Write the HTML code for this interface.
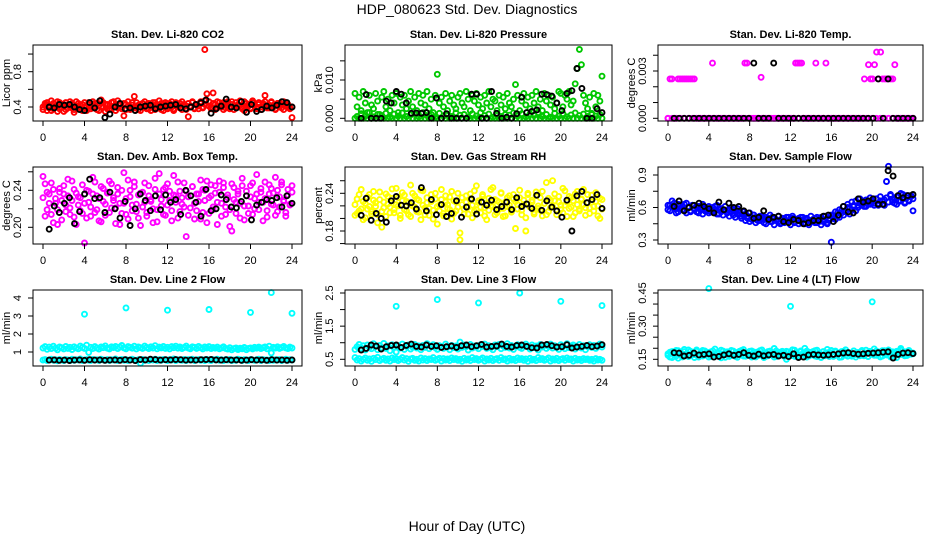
<!DOCTYPE html>
<html><head><meta charset="utf-8">
<style>
html,body{margin:0;padding:0;background:#fff;}
svg{display:block;font-family:"Liberation Sans",Arial,sans-serif;}
</style></head>
<body>
<svg id="chart" width="936" height="540" viewBox="0 0 936 540" xmlns="http://www.w3.org/2000/svg">
<text x="467" y="14" text-anchor="middle" font-size="14">HDP_080623  Std. Dev. Diagnostics</text>
<text x="467" y="531" text-anchor="middle" font-size="14">Hour of Day (UTC)</text>
</svg>
<script>
// ---------- data ----------
const xTicks = [0,4,8,12,16,20,24];
const xTickLabels = ["0","4","8","12","16","20","24"];

const co2A = [0.40,0.44,0.36,0.42,0.47,0.38,0.41,0.35,0.45,0.40,0.43,0.37,0.42,0.46,0.39,0.34,0.41,0.44,0.38,0.43,0.40,0.36,0.45,0.41,0.39,0.44,0.37,0.42,0.48,0.40,0.35,0.43,0.41,0.38,0.46,0.42,0.39,0.44,0.40,0.30,0.43,0.41,0.37,0.45,0.52,0.39,0.42,0.36,0.44,0.40,0.43,0.38,0.41,0.45,0.37,0.42,0.40,0.44,0.36,0.43,0.41,0.39,0.46,0.38,0.42,0.40,0.44,0.37,0.43,0.41,0.29,0.41,0.45,0.39,0.42,0.38,0.44,0.40,0.47,0.55,0.41,0.38,0.56,0.43,0.39,0.45,0.40,0.37,0.44,0.42,0.38,0.46,0.41,0.39,0.43,0.47,0.40,0.36,0.44,0.41,0.38,0.45,0.42,0.40,0.43,0.37,0.44,0.53,0.41,0.39,0.46,0.42,0.38,0.44,0.40,0.43,0.37,0.45,0.41,0.39,0.28];
const co2B = [0.37,0.42,0.45,0.39,0.36,0.44,0.40,0.46,0.38,0.43,0.35,0.45,0.39,0.41,0.44,0.37,0.46,0.40,0.42,0.36,0.45,0.39,0.43,0.38,0.46,0.41,0.44,0.36,0.40,0.45,0.43,0.38,0.37,0.45,0.40,0.36,0.47,0.42,0.38,0.44,0.37,0.46,0.40,0.42,0.39,0.45,0.37,0.43,0.40,0.46,0.38,0.44,0.36,0.42,0.45,0.39,0.47,0.37,0.42,0.45,0.38,0.44,0.40,0.36,0.45,0.43,0.39,0.46,0.41,0.37,0.44,0.40,0.46,0.38,0.43,0.41,0.46,0.39,0.43,0.42,0.46,0.40,0.44,0.37,0.46,0.41,0.43,0.45,0.39,0.46,0.40,0.43,0.37,0.45,0.41,0.42,0.38,0.46,0.40,0.43,0.39,0.47,0.42,0.38,0.45,0.40,0.43,0.46,0.39,0.42,0.45,0.40,0.37,0.44,0.42,0.39,0.46,0.41,0.43,0.38,0.40];
const co2Out = [1.05];
const co2OutH = [15.6];
const co2K = [0.40,0.39,0.43,0.42,0.43,0.40,0.37,0.36,0.45,0.39,0.47,0.28,0.32,0.40,0.44,0.38,0.39,0.36,0.40,0.41,0.42,0.38,0.40,0.41,0.42,0.43,0.39,0.38,0.40,0.43,0.45,0.48,0.33,0.38,0.41,0.49,0.40,0.39,0.46,0.34,0.43,0.35,0.37,0.41,0.39,0.42,0.46,0.45,0.40];

const presA = [0.0065,0.0030,0.0055,0.0020,0.0070,0.0040,0.0015,0.0060,0.0035,0.0025,0.0065,0.0045,0.0010,0.0055,0.0070,0.0030,0.0050,0.0020,0.0060,0.0040,0.0065,0.0015,0.0055,0.0035,0.0060,0.0025,0.0045,0.0070,0.0030,0.0055,0.0020,0.0065,0.0040,0.0060,0.0035,0.0070,0.0025,0.0050,0.0015,0.0060,0.0115,0.0040,0.0055,0.0030,0.0065,0.0020,0.0045,0.0060,0.0035,0.0025,0.0055,0.0065,0.0040,0.0030,0.0070,0.0050,0.0020,0.0060,0.0045,0.0065,0.0035,0.0055,0.0025,0.0060,0.0040,0.0070,0.0030,0.0050,0.0045,0.0020,0.0060,0.0035,0.0055,0.0025,0.0065,0.0040,0.0030,0.0050,0.0088,0.0060,0.0020,0.0045,0.0065,0.0035,0.0055,0.0025,0.0060,0.0040,0.0070,0.0030,0.0050,0.0020,0.0065,0.0045,0.0060,0.0035,0.0055,0.0025,0.0040,0.0070,0.0065,0.0030,0.0060,0.0050,0.0070,0.0035,0.0045,0.0090,0.0130,0.0180,0.0140,0.0060,0.0040,0.0025,0.0055,0.0010,0.0065,0.0030,0.0060,0.0045,0.0110];
const presB = [0,0.0005,0,0.0012,0,0.0006,0,0.0015,0,0.0004,0,0.0010,0,0.0007,0,0.0013,0,0.0003,0,0.0011,0,0.0006,0,0.0014,0,0.0005,0,0.0009,0,0.0012,0,0.0004,0,0.0015,0,0.0007,0,0.0010,0,0.0003,0,0.0013,0,0.0006,0,0.0011,0,0.0005,0,0.0014,0,0.0008,0,0.0010,0,0.0004,0,0.0012,0,0.0006,0,0.0015,0,0.0007,0,0.0011,0,0.0003,0,0.0013,0,0.0005,0,0.0010,0,0.0008,0,0.0014,0,0.0006,0,0.0012,0,0.0004,0,0.0011,0,0.0007,0,0.0015,0,0.0005,0,0.0010,0,0.0003,0,0.0013,0,0.0006,0,0.0012,0,0.0004,0,0.0009,0,0.0014,0,0.0007,0,0.0011,0,0.0005,0,0.0013,0,0.0006,0,0.0010,0];
const presK = [0,0.0062,0,0,0,0.0045,0.0040,0.0070,0.0063,0.0040,0.0013,0.0014,0.0013,0.0015,0,0.0053,0,0.0012,0,0,0,0,0.0063,0.0063,0,0,0.0070,0.0013,0,0.0003,0,0.0012,0.0055,0.0015,0.0018,0.0022,0.0063,0.0062,0.0058,0.0040,0.0020,0.0065,0.0072,0.0130,0.0078,0,0,0.0025,0.0015];

const tempA = [0,0.0025,0.0025,0,0,0.0025,0.0025,0.0025,0.0025,0.0025,0.0025,0.0025,0.0025,0.0025,0,0,0,0,0,0,0,0,0.0035,0,0,0,0,0,0,0,0,0,0,0,0,0,0,0,0.0035,0.0035,0,0,0,0,0,0,0.0026,0,0,0,0,0,0,0,0,0,0,0,0,0,0,0,0,0.0035,0.0035,0.0035,0.0035,0,0,0,0,0,0,0.0035,0,0,0,0,0.0035,0,0,0,0,0,0,0,0,0,0,0,0,0,0,0,0,0,0,0.0025,0,0.0034,0.0025,0.0025,0.0034,0.0042,0.0025,0.0042,0.0025,0.0025,0.0025,0.0025,0.0025,0.0025,0.0034,0,0,0,0,0,0,0,0,0];
const tempB = [0,0,0,0,0,0,0,0,0,0,0,0,0,0,0,0,0,0,0,0,0,0,0,0,0,0,0,0,0,0,0,0,0,0,0,0,0,0,0,0,0,0,0,0,0,0,0,0,0,0,0,0,0,0,0,0,0,0,0,0,0];
const tempK = [0,0,0,0,0,0,0,0,0,0,0,0,0,0,0,0,0.0035,0,0,0,0.0035,0,0,0,0,0,0,0,0,0,0,0,0,0,0,0,0,0,0,0,0,0.0025,0,0.0025,0,0,0,0,0];

const ambA = [0.255,0.212,0.238,0.226,0.248,0.205,0.231,0.219,0.242,0.208,0.236,0.224,0.252,0.214,0.229,0.241,0.203,0.233,0.218,0.246,0.226,0.210,0.239,0.222,0.254,0.216,0.234,0.207,0.244,0.228,0.213,0.237,0.250,0.221,0.232,0.204,0.243,0.226,0.215,0.259,0.231,0.209,0.240,0.224,0.249,0.217,0.235,0.202,0.238,0.227,0.212,0.245,0.230,0.220,0.253,0.206,0.236,0.223,0.241,0.213,0.247,0.229,0.218,0.256,0.234,0.210,0.239,0.225,0.248,0.190,0.233,0.221,0.244,0.209,0.236,0.228,0.251,0.216,0.240,0.205,0.232,0.246,0.219,0.237,0.227,0.250,0.212,0.243,0.222,0.235,0.201,0.247,0.230,0.215,0.239,0.226,0.253,0.208,0.234,0.223,0.245,0.214,0.231,0.257,0.219,0.238,0.227,0.249,0.211,0.236,0.242,0.224,0.254,0.217,0.233,0.246,0.228,0.212,0.241,0.225,0.238];
const ambB = [0.232,0.247,0.219,0.236,0.214,0.241,0.226,0.203,0.238,0.229,0.245,0.217,0.234,0.221,0.250,0.211,0.237,0.224,0.232,0.215,0.183,0.240,0.227,0.212,0.236,0.249,0.219,0.231,0.206,0.242,0.225,0.238,0.216,0.247,0.229,0.221,0.236,0.203,0.240,0.226,0.214,0.251,0.233,0.218,0.244,0.225,0.210,0.237,0.222,0.248,0.216,0.234,0.228,0.205,0.241,0.219,0.258,0.230,0.214,0.243,0.224,0.239,0.207,0.235,0.227,0.249,0.217,0.232,0.222,0.239,0.213,0.178,0.244,0.226,0.218,0.236,0.209,0.241,0.229,0.250,0.215,0.234,0.222,0.245,0.203,0.238,0.226,0.248,0.214,0.232,0.219,0.196,0.243,0.227,0.236,0.210,0.245,0.223,0.239,0.215,0.233,0.248,0.220,0.236,0.227,0.242,0.207,0.231,0.218,0.246,0.225,0.237,0.213,0.240,0.222,0.249,0.229,0.216,0.235,0.224,0.245];
const ambK = [0.198,0.223,0.216,0.226,0.232,0.204,0.217,0.236,0.252,0.231,0.232,0.216,0.238,0.220,0.210,0.228,0.202,0.220,0.236,0.229,0.218,0.234,0.219,0.235,0.227,0.230,0.214,0.240,0.234,0.227,0.212,0.241,0.218,0.220,0.235,0.230,0.222,0.221,0.228,0.234,0.208,0.224,0.227,0.230,0.229,0.232,0.222,0.234,0.226];

const rhA = [0.205,0.231,0.212,0.246,0.198,0.224,0.215,0.238,0.207,0.229,0.219,0.193,0.242,0.211,0.226,0.203,0.235,0.218,0.247,0.209,0.222,0.233,0.200,0.241,0.214,0.227,0.206,0.253,0.220,0.236,0.211,0.229,0.198,0.244,0.217,0.225,0.205,0.238,0.213,0.231,0.191,0.221,0.246,0.208,0.226,0.216,0.234,0.199,0.228,0.212,0.240,0.177,0.222,0.207,0.236,0.218,0.230,0.201,0.244,0.214,0.225,0.209,0.238,0.217,0.198,0.232,0.220,0.249,0.206,0.228,0.215,0.241,0.203,0.226,0.219,0.236,0.210,0.231,0.184,0.222,0.245,0.213,0.229,0.201,0.238,0.218,0.226,0.207,0.242,0.216,0.233,0.204,0.224,0.257,0.211,0.229,0.219,0.239,0.206,0.226,0.214,0.248,0.221,0.203,0.235,0.218,0.228,0.209,0.243,0.215,0.231,0.222,0.205,0.238,0.217,0.226,0.212,0.241,0.220,0.200,0.230];
const rhB = [0.222,0.208,0.238,0.215,0.227,0.201,0.234,0.219,0.211,0.243,0.225,0.206,0.230,0.186,0.217,0.239,0.223,0.209,0.232,0.214,0.248,0.220,0.205,0.228,0.237,0.212,0.225,0.203,0.240,0.218,0.231,0.210,0.245,0.221,0.206,0.233,0.216,0.227,0.199,0.240,0.219,0.212,0.230,0.204,0.236,0.222,0.214,0.243,0.208,0.226,0.218,0.166,0.233,0.215,0.226,0.207,0.239,0.221,0.212,0.252,0.228,0.218,0.235,0.204,0.224,0.213,0.246,0.219,0.230,0.209,0.226,0.240,0.216,0.204,0.233,0.221,0.212,0.238,0.227,0.215,0.233,0.206,0.222,0.180,0.240,0.218,0.229,0.210,0.236,0.220,0.213,0.243,0.224,0.206,0.232,0.217,0.260,0.228,0.213,0.235,0.221,0.209,0.244,0.226,0.216,0.233,0.203,0.239,0.222,0.212,0.230,0.246,0.217,0.225,0.208,0.237,0.219,0.227,0.204,0.232,0.215];
const rhK = [0.205,0.232,0.197,0.208,0.200,0.194,0.228,0.235,0.221,0.220,0.225,0.215,0.249,0.212,0.230,0.206,0.222,0.203,0.208,0.228,0.202,0.218,0.231,0.207,0.226,0.221,0.229,0.214,0.219,0.226,0.214,0.233,0.219,0.223,0.216,0.237,0.213,0.228,0.218,0.212,0.202,0.229,0.180,0.236,0.243,0.225,0.230,0.238,0.216];

const flowA = [0.58,0.62,0.66,0.60,0.55,0.63,0.59,0.61,0.57,0.64,0.60,0.56,0.62,0.58,0.61,0.55,0.60,0.63,0.57,0.59,0.61,0.56,0.60,0.58,0.62,0.54,0.59,0.57,0.61,0.55,0.58,0.60,0.53,0.57,0.59,0.55,0.52,0.56,0.54,0.50,0.55,0.49,0.53,0.51,0.48,0.52,0.50,0.46,0.51,0.49,0.53,0.47,0.50,0.48,0.52,0.46,0.50,0.49,0.47,0.51,0.48,0.52,0.46,0.49,0.50,0.47,0.51,0.45,0.49,0.48,0.52,0.47,0.50,0.46,0.49,0.51,0.47,0.48,0.45,0.50,0.28,0.52,0.49,0.55,0.51,0.57,0.53,0.56,0.60,0.54,0.58,0.62,0.57,0.60,0.64,0.62,0.66,0.61,0.65,0.63,0.67,0.64,0.68,0.62,0.66,0.63,0.67,0.84,0.98,0.71,0.65,0.68,0.63,0.70,0.66,0.72,0.64,0.69,0.66,0.71,0.57];
const flowB = [0.62,0.57,0.61,0.64,0.59,0.56,0.62,0.58,0.63,0.55,0.60,0.57,0.62,0.59,0.56,0.61,0.58,0.54,0.60,0.57,0.55,0.59,0.56,0.61,0.54,0.58,0.56,0.53,0.57,0.55,0.52,0.56,0.58,0.51,0.54,0.57,0.50,0.53,0.48,0.52,0.47,0.51,0.53,0.46,0.50,0.48,0.52,0.49,0.45,0.50,0.47,0.51,0.44,0.49,0.47,0.45,0.50,0.46,0.51,0.48,0.44,0.50,0.47,0.49,0.45,0.51,0.48,0.46,0.50,0.44,0.47,0.49,0.46,0.51,0.47,0.44,0.49,0.52,0.46,0.48,0.53,0.50,0.56,0.52,0.58,0.55,0.61,0.57,0.63,0.59,0.65,0.61,0.66,0.62,0.68,0.64,0.61,0.67,0.63,0.69,0.65,0.62,0.68,0.64,0.70,0.66,0.62,0.69,0.65,0.72,0.67,0.64,0.70,0.66,0.73,0.68,0.65,0.71,0.67,0.70,0.68];
const flowK = [0.61,0.66,0.57,0.60,0.62,0.64,0.61,0.59,0.55,0.65,0.58,0.64,0.60,0.61,0.57,0.55,0.50,0.51,0.57,0.49,0.51,0.52,0.47,0.46,0.49,0.48,0.45,0.46,0.48,0.48,0.52,0.53,0.47,0.53,0.61,0.56,0.55,0.68,0.65,0.66,0.68,0.63,0.63,0.94,0.89,0.71,0.69,0.71,0.72];

const l2A = [1.22,1.30,1.15,1.27,1.19,1.32,1.21,1.12,1.28,1.24,1.17,1.31,1.20,1.26,1.14,1.29,1.23,1.18,1.33,1.25,1.20,1.38,0.98,1.26,1.19,1.30,1.22,1.16,1.28,1.24,1.34,1.21,1.17,1.29,1.25,1.31,1.19,1.27,1.36,1.23,1.18,1.30,1.26,1.21,1.32,1.17,1.28,1.24,1.20,1.33,1.25,1.19,1.29,1.22,1.35,1.18,1.27,1.23,1.31,1.20,1.26,1.17,1.30,1.24,1.32,1.21,1.28,1.19,1.25,1.33,1.22,1.18,1.29,1.26,1.20,1.31,1.24,1.17,1.28,1.22,1.30,1.19,1.25,1.21,1.27,1.18,1.23,1.29,1.20,1.16,1.24,1.12,1.19,1.22,1.14,1.21,1.18,1.25,1.13,1.20,1.23,1.17,1.26,1.21,1.27,1.19,1.24,1.28,1.18,1.32,0.95,1.26,1.22,1.29,1.20,1.25,1.31,1.23,1.19,1.27,1.22];
const l2B = [0.55,0.58,0.52,0.56,0.60,0.54,0.57,0.51,0.59,0.55,0.53,0.58,0.56,0.52,0.60,0.54,0.57,0.55,0.61,0.53,0.56,0.58,0.54,0.52,0.59,0.55,0.57,0.53,0.60,0.56,0.54,0.58,0.52,0.57,0.55,0.61,0.53,0.56,0.59,0.54,0.58,0.52,0.56,0.60,0.55,0.53,0.57,0.38,0.59,0.54,0.56,0.52,0.58,0.55,0.60,0.53,0.57,0.54,0.59,0.56,0.52,0.58,0.55,0.61,0.53,0.57,0.56,0.54,0.59,0.52,0.58,0.55,0.60,0.53,0.56,0.58,0.54,0.57,0.52,0.59,0.55,0.53,0.58,0.56,0.60,0.54,0.57,0.52,0.58,0.55,0.59,0.53,0.56,0.54,0.60,0.57,0.52,0.58,0.55,0.53,0.59,0.56,0.54,0.57,0.60,0.52,0.58,0.55,0.56,0.53,0.59,0.54,0.57,0.55,0.58,0.52,0.56,0.60,0.54,0.57,0.55];
const l2Out = [3.1,3.45,3.32,3.36,3.2,4.3,3.15];
const l2OutH = [4,8,12,16,20,22,24];
const l2K = [0.55,0.56,0.54,0.55,0.53,0.55,0.56,0.54,0.57,0.55,0.56,0.54,0.55,0.56,0.54,0.57,0.55,0.52,0.58,0.56,0.60,0.58,0.55,0.57,0.56,0.58,0.57,0.55,0.56,0.55,0.57,0.58,0.59,0.56,0.55,0.57,0.55,0.56,0.54,0.55,0.57,0.55,0.56,0.54,0.57,0.55,0.56,0.54,0.56];

const l3A = [0.80,0.88,0.95,0.84,0.91,0.78,0.93,0.86,0.82,0.97,0.89,0.79,0.92,0.85,0.98,0.83,0.90,0.76,0.94,0.87,0.72,0.91,0.84,0.96,0.80,0.89,0.93,0.81,0.87,0.95,0.84,0.90,0.79,0.92,0.86,0.97,0.82,0.89,0.94,0.85,0.80,0.91,0.88,0.83,0.96,0.87,0.79,0.92,0.85,0.90,0.81,1.02,0.86,0.93,0.88,0.78,0.95,0.84,0.90,0.87,0.82,0.94,0.89,0.96,0.83,0.91,0.85,0.79,0.93,0.88,0.95,0.82,0.90,0.86,0.97,0.84,0.92,0.80,0.89,0.94,0.86,0.83,0.91,0.96,0.88,0.81,0.93,0.85,0.90,0.78,0.95,0.87,0.92,0.83,0.89,0.96,0.84,0.91,0.86,0.80,0.94,0.88,0.82,0.97,0.85,0.90,0.93,0.81,0.87,0.95,0.84,0.91,0.79,0.88,0.94,0.86,0.92,0.83,0.89,0.96,0.87];
const l3B = [0.55,0.48,0.52,0.45,0.50,0.54,0.47,0.51,0.44,0.53,0.49,0.56,0.46,0.50,0.53,0.47,0.51,0.45,0.54,0.49,0.52,0.46,0.50,0.55,0.48,0.52,0.44,0.51,0.53,0.47,0.50,0.45,0.54,0.48,0.52,0.46,0.51,0.49,0.55,0.47,0.50,0.53,0.45,0.52,0.48,0.51,0.46,0.54,0.49,0.52,0.47,0.50,0.44,0.53,0.48,0.51,0.46,0.55,0.49,0.52,0.47,0.50,0.54,0.45,0.51,0.48,0.53,0.46,0.50,0.52,0.47,0.55,0.49,0.51,0.45,0.53,0.48,0.50,0.46,0.54,0.49,0.52,0.47,0.51,0.44,0.53,0.48,0.50,0.46,0.55,0.49,0.52,0.47,0.50,0.54,0.45,0.51,0.48,0.53,0.46,0.50,0.52,0.47,0.54,0.49,0.51,0.45,0.53,0.48,0.50,0.46,0.52,0.49,0.51,0.47,0.50,0.45,0.52,0.48,0.50,0.47];
const l3Out = [2.1,2.3,2.2,2.5,2.25,2.12];
const l3OutH = [4,8,12,16,20,24];
const l3K = [0.78,0.83,0.93,0.90,0.81,0.88,0.92,0.93,0.86,0.92,0.96,0.89,0.87,0.93,0.89,0.91,0.86,0.88,0.90,0.86,0.91,0.93,0.88,0.91,0.95,0.87,0.89,0.90,0.96,0.89,0.87,0.92,0.93,0.89,0.85,0.84,0.93,0.95,0.91,0.87,0.88,0.94,0.84,0.87,0.89,0.92,0.88,0.90,0.94];

const l4A = [0.175,0.160,0.185,0.170,0.190,0.155,0.180,0.168,0.195,0.172,0.162,0.186,0.176,0.158,0.192,0.170,0.182,0.165,0.188,0.174,0.160,0.184,0.171,0.196,0.166,0.179,0.157,0.187,0.173,0.181,0.163,0.190,0.169,0.177,0.159,0.186,0.172,0.194,0.164,0.180,0.168,0.188,0.175,0.161,0.183,0.170,0.192,0.158,0.178,0.166,0.187,0.173,0.199,0.162,0.181,0.169,0.186,0.176,0.150,0.184,0.171,0.193,0.163,0.179,0.167,0.188,0.174,0.200,0.160,0.182,0.170,0.185,0.165,0.191,0.173,0.158,0.184,0.176,0.195,0.162,0.180,0.168,0.187,0.171,0.159,0.185,0.174,0.193,0.164,0.178,0.169,0.188,0.160,0.181,0.172,0.190,0.166,0.179,0.163,0.186,0.174,0.197,0.168,0.183,0.161,0.189,0.175,0.170,0.192,0.164,0.180,0.177,0.158,0.186,0.199,0.171,0.184,0.167,0.190,0.173,0.178];
const l4B = [0.168,0.182,0.158,0.176,0.165,0.189,0.172,0.161,0.185,0.174,0.192,0.166,0.179,0.171,0.186,0.160,0.177,0.190,0.169,0.182,0.175,0.163,0.188,0.170,0.180,0.166,0.191,0.173,0.159,0.184,0.176,0.168,0.187,0.163,0.181,0.172,0.190,0.165,0.178,0.170,0.186,0.160,0.183,0.175,0.167,0.189,0.172,0.180,0.164,0.185,0.171,0.177,0.160,0.188,0.168,0.182,0.174,0.163,0.186,0.170,0.179,0.167,0.191,0.173,0.160,0.184,0.176,0.168,0.187,0.165,0.181,0.172,0.189,0.162,0.178,0.170,0.185,0.166,0.180,0.174,0.190,0.163,0.183,0.171,0.177,0.160,0.186,0.169,0.181,0.175,0.164,0.188,0.172,0.179,0.166,0.185,0.170,0.191,0.162,0.182,0.176,0.168,0.187,0.173,0.180,0.165,0.189,0.171,0.178,0.161,0.184,0.174,0.186,0.169,0.191,0.176,0.166,0.183,0.172,0.180,0.175];
const l4Out = [0.47,0.39,0.41];
const l4OutH = [4,12,20];
const l4K = [0.180,0.178,0.165,0.168,0.178,0.170,0.172,0.175,0.160,0.163,0.170,0.175,0.168,0.172,0.180,0.168,0.165,0.173,0.166,0.170,0.172,0.165,0.168,0.162,0.175,0.158,0.160,0.170,0.172,0.170,0.168,0.170,0.172,0.175,0.178,0.180,0.176,0.173,0.175,0.177,0.178,0.180,0.182,0.184,0.156,0.172,0.178,0.180,0.176];

// ---------- drawing ----------
const NS = "http://www.w3.org/2000/svg";
const svg = document.getElementById('chart');
function mk(tag, attrs, parent){ const e=document.createElementNS(NS,tag); for(const k in attrs) e.setAttribute(k,attrs[k]); (parent||svg).appendChild(e); return e; }

const panels = [
 {key:'co2',title:'Stan. Dev. Li-820 CO2',ylab:'Licor ppm',x:33,y:45,w:269,h:76,v0:0.4,p0:107,v1:0.8,p1:71.7,ticks:[0.4,0.6,0.8,1.0],tl:["0.4","","0.8",""],col:'#ff0000',series:[co2A,co2B],outV:co2Out,outH:co2OutH,black:co2K},
 {key:'pressure',title:'Stan. Dev. Li-820 Pressure',ylab:'kPa',x:345,y:45,w:267,h:76,v0:0,p0:118.3,v1:0.01,p1:80,ticks:[0,0.005,0.01,0.015],tl:["0.000","","0.010",""],col:'#00c800',series:[presB,presA],outV:[],outH:[],black:presK},
 {key:'temp',title:'Stan. Dev. Li-820 Temp.',ylab:'degrees C',x:658,y:45,w:265,h:76,v0:0,p0:118.3,v1:0.003,p1:71,ticks:[0,0.001,0.002,0.003,0.004],tl:["0.000","","","0.003",""],col:'#ff00ff',series:[tempB,tempA],outV:[],outH:[],black:tempK},
 {key:'ambtemp',title:'Stan. Dev. Amb. Box Temp.',ylab:'degrees C',x:33,y:167,w:269,h:77,v0:0.20,p0:227.3,v1:0.24,p1:190.3,ticks:[0.20,0.22,0.24,0.26],tl:["0.20","","0.24",""],col:'#ff00ff',series:[ambA,ambB],outV:[],outH:[],black:ambK},
 {key:'rh',title:'Stan. Dev. Gas Stream RH',ylab:'percent',x:345,y:167,w:267,h:77,v0:0.18,p0:231,v1:0.24,p1:193.3,ticks:[0.16,0.18,0.20,0.22,0.24,0.26],tl:["","0.18","","","0.24",""],col:'#ffff00',series:[rhA,rhB],outV:[],outH:[],black:rhK},
 {key:'sampleflow',title:'Stan. Dev. Sample Flow',ylab:'ml/min',x:658,y:167,w:265,h:77,v0:0.3,p0:240,v1:0.9,p1:175,ticks:[0.3,0.45,0.6,0.75,0.9],tl:["0.3","","0.6","","0.9"],col:'#0000ff',series:[flowA,flowB],outV:[],outH:[],black:flowK},
 {key:'line2',title:'Stan. Dev. Line 2 Flow',ylab:'ml/min',x:33,y:290,w:269,h:76,v0:1,p0:352,v1:4,p1:298,ticks:[1,2,3,4],tl:["1","2","3","4"],col:'#00ffff',series:[l2A,l2B],outV:l2Out,outH:l2OutH,black:l2K},
 {key:'line3',title:'Stan. Dev. Line 3 Flow',ylab:'ml/min',x:345,y:290,w:267,h:76,v0:0.5,p0:359.3,v1:2.5,p1:293,ticks:[0.5,1.0,1.5,2.0,2.5],tl:["0.5","","1.5","","2.5"],col:'#00ffff',series:[l3A,l3B],outV:l3Out,outH:l3OutH,black:l3K},
 {key:'line4',title:'Stan. Dev. Line 4 (LT) Flow',ylab:'ml/min',x:658,y:290,w:265,h:76,v0:0.15,p0:359.3,v1:0.45,p1:293,ticks:[0.15,0.20,0.25,0.30,0.35,0.40,0.45],tl:["0.15","","","0.30","","","0.45"],col:'#00ffff',series:[l4A,l4B],outV:l4Out,outH:l4OutH,black:l4K}
];

panels.forEach(p=>{
  const g = mk('g',{});
  
  
  const xs = h => p.x+10 + h*(p.w-20)/24;
  const ys = v => p.p0 + (v-p.v0)*(p.p1-p.p0)/(p.v1-p.v0);
  const ptsG = mk('g',{fill:'none','stroke-width':1.9},g);
  
  
  const drawPt=(h,v,c)=>{ const yy=ys(v); if(yy<p.y-2||yy>p.y+p.h+2) return;
    const c1=mk('circle',{cx:xs(h).toFixed(1),cy:yy.toFixed(1),r:2.5,stroke:c},ptsG);
    
     };
  p.series.forEach(s=>{ s.forEach((v,i)=>drawPt(i*24/(s.length-1),v,p.col)); });
  p.outV.forEach((v,i)=>drawPt(p.outH[i],v,p.col));
  p.black.forEach((v,i)=>drawPt(0.6+i*23.4/(p.black.length-1),v,'#000'));
  const box = mk('rect',{x:p.x,y:p.y,width:p.w,height:p.h,fill:'none',stroke:'#000','stroke-width':1},g);
  
  
  const t = mk('text',{x:p.x+p.w/2,y:p.y-7,'text-anchor':'middle','font-size':11,'font-weight':'bold'},g);
  t.textContent=p.title;
  
  
  const bx = p.y+p.h;
  mk('line',{x1:xs(0),x2:xs(24),y1:bx,y2:bx,stroke:'#000'},g);
  xTicks.forEach((h,i)=>{
    mk('line',{x1:xs(h),x2:xs(h),y1:bx,y2:bx+5,stroke:'#000'},g);
    const tl=mk('text',{x:xs(h),y:bx+20,'text-anchor':'middle','font-size':11},g);
    tl.textContent=xTickLabels[i];
    
    
  });
  const yt0=ys(p.ticks[0]), yt1=ys(p.ticks[p.ticks.length-1]);
  mk('line',{x1:p.x,x2:p.x,y1:yt0,y2:yt1,stroke:'#000'},g);
  p.ticks.forEach((v,i)=>{
    const yy=ys(v);
    mk('line',{x1:p.x-5,x2:p.x,y1:yy,y2:yy,stroke:'#000'},g);
    if(p.tl[i]){
      const tl=mk('text',{x:0,y:0,'text-anchor':'middle','font-size':11,transform:`translate(${p.x-12},${yy}) rotate(-90)`},g);
      tl.textContent=p.tl[i];
      
      
    }
  });
  const yl=mk('text',{x:0,y:0,'text-anchor':'middle','font-size':11,transform:`translate(${p.x-23},${p.y+p.h/2}) rotate(-90)`},g);
  yl.textContent=p.ylab;
  
  
});
</script>
</body></html>
